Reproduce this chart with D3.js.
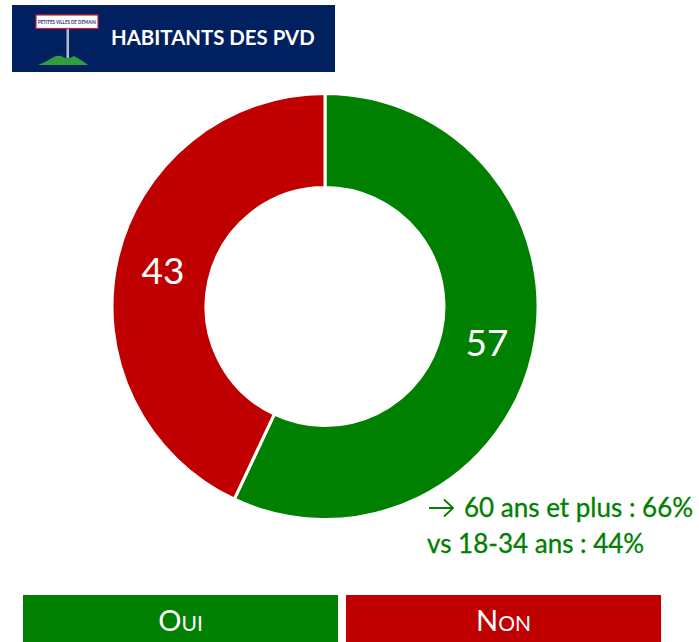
<!DOCTYPE html>
<html>
<head>
<meta charset="utf-8">
<script src="https://cdn.jsdelivr.net/npm/d3@7"></script>
<style>
  html, body { margin: 0; padding: 0; background: #fff; overflow: hidden; }
  text { font-family: Lato, "Open Sans", sans-serif; }
</style>
</head>
<body>
<div id="vis"></div>
<script>
const categories = ["Oui", "Non"];
const values = [57, 43];
const colors = ["#008000", "#C00000"];
const noteLines = ["60 ans et plus : 66%", "vs 18-34 ans : 44%"];
const title = "HABITANTS DES PVD";
const signText = "PETITES VILLES DE DEMAIN";

const FRAME_WIDTH = 699;
const FRAME_HEIGHT = 642;
const CENTER = {x: 325, y: 306.5};
const OUTER_R = 213;
const INNER_R = 119;

const FRAME = d3.select("#vis")
    .append("svg")
    .attr("width", FRAME_WIDTH)
    .attr("height", FRAME_HEIGHT)
    .style("display", "block");

// banner
FRAME.append("rect")
    .attr("x", 12).attr("y", 5)
    .attr("width", 323).attr("height", 67)
    .attr("fill", "#002060");

const logo = FRAME.append("g");
logo.append("path")
    .attr("d", "M38 65 Q46 62 52 58 Q58 54 63 57 Q68 60 74 56 Q80 59 88 65 Z")
    .attr("fill", "#2f9e3f");
logo.append("rect")
    .attr("x", 66.5).attr("y", 29)
    .attr("width", 2.5).attr("height", 29)
    .attr("fill", "#b4bccb");
logo.append("rect")
    .attr("x", 36).attr("y", 15)
    .attr("width", 62).attr("height", 13.5)
    .attr("fill", "#fff")
    .attr("stroke", "#c8203c")
    .attr("stroke-width", 1.2);
logo.append("text")
    .attr("x", 67).attr("y", 24)
    .attr("text-anchor", "middle")
    .attr("font-size", 5.6)
    .attr("font-weight", 700)
    .attr("fill", "#2a3a70")
    .attr("textLength", 58)
    .attr("lengthAdjust", "spacingAndGlyphs")
    .text(signText);

FRAME.append("text")
    .attr("x", 111).attr("y", 45)
    .attr("font-size", 20.4)
    .attr("font-weight", 700)
    .attr("fill", "#fff")
    .text(title);

// donut
const pie = d3.pie().sort(null);
const arc = d3.arc().innerRadius(INNER_R).outerRadius(OUTER_R);
const labelArc = d3.arc().innerRadius(166).outerRadius(166);

const donut = FRAME.append("g")
    .attr("transform", "translate(" + CENTER.x + "," + CENTER.y + ")");

donut.selectAll("path")
    .data(pie(values))
    .enter()
    .append("path")
        .attr("d", arc)
        .attr("fill", (d, i) => colors[i])
        .attr("stroke", "#fff")
        .attr("stroke-width", 3);

donut.selectAll("text")
    .data(pie(values))
    .enter()
    .append("text")
        .attr("transform", (d) => "translate(" + labelArc.centroid(d) + ")")
        .attr("text-anchor", "middle")
        .attr("dy", "0.36em")
        .attr("font-size", 37)
        .attr("fill", "#fff")
        .text((d) => d.value);

// note next to the donut
FRAME.append("path")
    .attr("d", "M429 508 H452 M444 499.5 L453 508 L444 516.5")
    .attr("fill", "none")
    .attr("stroke", "#008000")
    .attr("stroke-width", 1.8);

FRAME.selectAll(".note")
    .data(noteLines)
    .enter()
    .append("text")
        .attr("class", "note")
        .attr("x", (d, i) => i === 0 ? 464 : 427)
        .attr("y", (d, i) => i === 0 ? 517 : 553)
        .attr("font-size", 26)
        .attr("fill", "#008000")
        .attr("stroke", "#008000")
        .attr("stroke-width", 0.3)
        .text((d) => d);

// legend
const legendX = d3.scaleBand()
    .domain(categories)
    .range([23, 661])
    .paddingInner(0.0248);

const legend = FRAME.selectAll(".legend")
    .data(categories)
    .enter()
    .append("g")
        .attr("class", "legend");

legend.append("rect")
    .attr("x", (d) => legendX(d))
    .attr("y", 595)
    .attr("width", legendX.bandwidth())
    .attr("height", 47)
    .attr("fill", (d, i) => colors[i]);

const legendText = legend.append("text")
    .attr("x", (d) => legendX(d) + legendX.bandwidth() / 2)
    .attr("y", 631)
    .attr("text-anchor", "middle")
    .attr("fill", "#fff");

// small caps, first letter bigger
legendText.append("tspan")
    .attr("font-size", 29)
    .text((d) => d[0].toUpperCase());
legendText.append("tspan")
    .attr("font-size", 21)
    .text((d) => d.slice(1).toUpperCase());
</script>
</body>
</html>
